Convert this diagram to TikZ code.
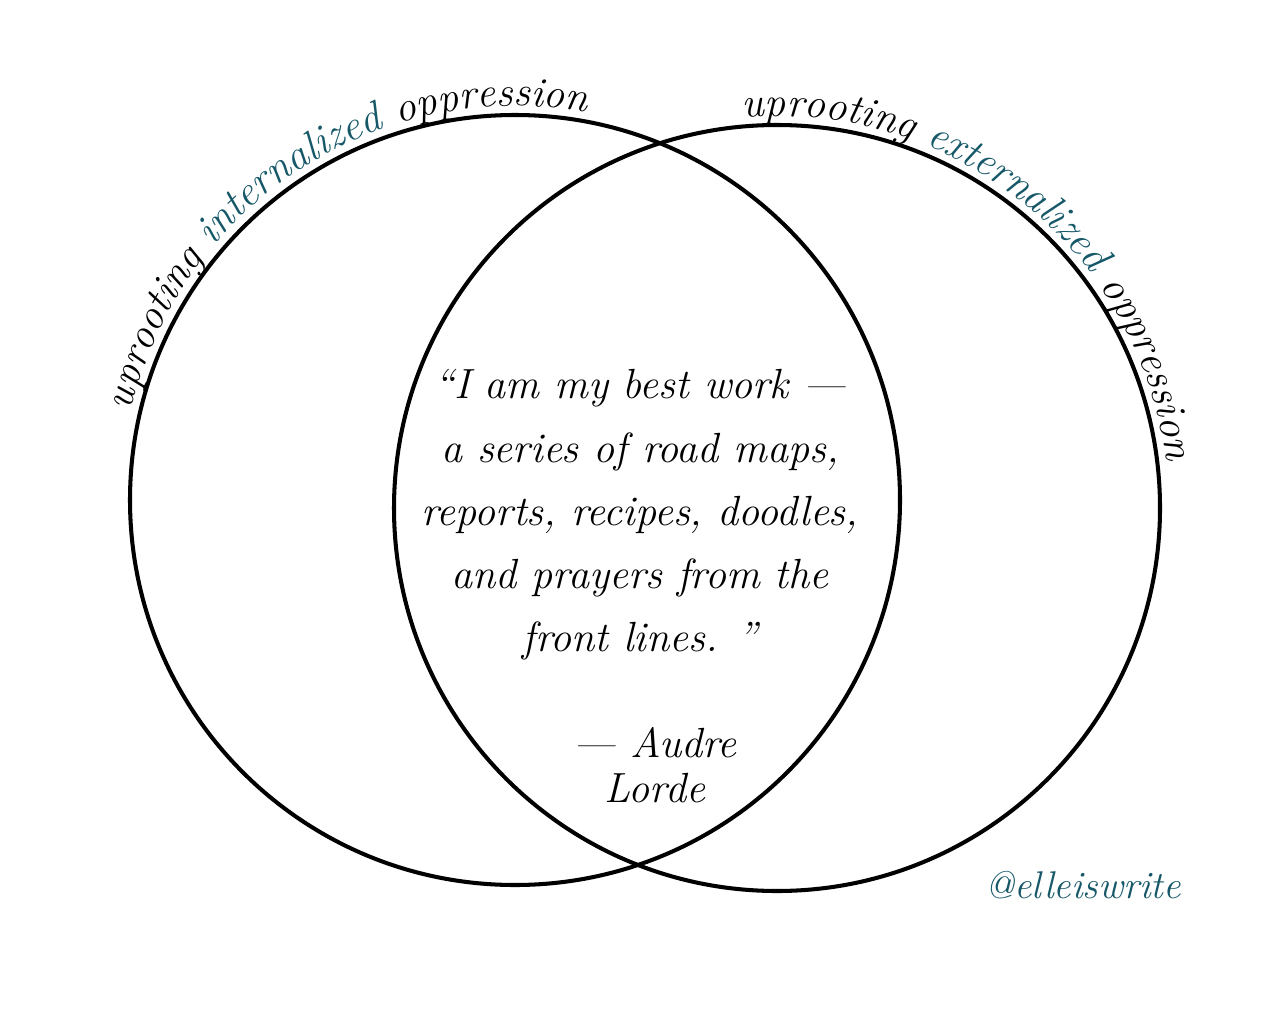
\documentclass[tikz,border=0pt]{standalone}
\usepackage{tikz}
\usetikzlibrary{decorations.text,calc}
\definecolor{inkteal}{RGB}{22,88,104}
\newcommand{\arcfont}{\fontsize{24}{24}\selectfont\itshape}
\tikzset{
  ring/.style={
    draw=black,
    line width=2.3pt
  },
  quotetext/.style={
    align=center,
    font=\fontsize{24}{36}\selectfont\itshape
  },
  authortext/.style={
    align=center,
    font=\fontsize{24}{26}\selectfont\itshape
  },
  handle/.style={
    text=inkteal,
    font=\fontsize{22}{24}\selectfont\itshape
  }
}

\begin{document}
\begin{tikzpicture}[x=0.02cm, y=0.02cm]
  \useasboundingbox (0,0) rectangle (1287,1009);

  \coordinate (Lc) at (515,509);
  \coordinate (Rc) at (777,501);

  % the two circles
  \draw[ring] (Lc) circle (385);
  \draw[ring] (Rc) circle (383);

  % labels written along the arcs
  \path[decorate, decoration={text along path,
      text={|\arcfont|uprooting |\arcfont\color{inkteal}|internalized|\arcfont| oppression}}]
    ($(Lc)+(167:394)$) arc[start angle=167, end angle=60, radius=394];
  \path[decorate, decoration={text along path,
      text={|\arcfont|uprooting |\arcfont\color{inkteal}|externalized|\arcfont| oppression}}]
    ($(Rc)+(95:392)$) arc[start angle=95, end angle=-10, radius=392];

  \node[quotetext] (quote) at (640,494)
    {``I am my best work ---\\
     a series of road maps,\\
     reports, recipes, doodles,\\
     and prayers from the\\
     front lines. ''};
  \node[authortext] (author) at (655,244) {--- Audre\\ Lorde};

  \node[handle] (tag) at (1083,124) {@elleiswrite};
\end{tikzpicture}
\end{document}
